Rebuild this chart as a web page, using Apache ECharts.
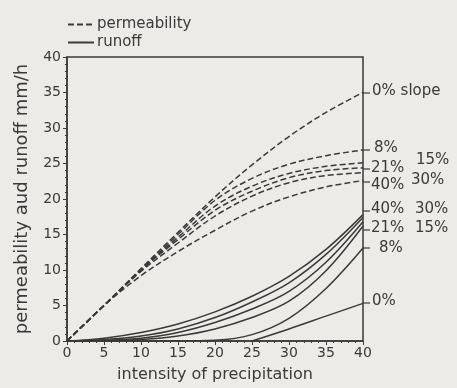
<!DOCTYPE html>
<html>
<head>
<meta charset="utf-8">
<script src="https://cdn.jsdelivr.net/npm/echarts@6/dist/echarts.min.js"></script>
<style>
    html, body { margin: 0; padding: 0; background: #ecebe7; }
    #chart { width: 457px; height: 388px; }
</style>
</head>
<body>
<div id="chart"></div>
<script>
    // intensity of precipitation (x)
    var intensity = [0, 5, 10, 15, 20, 25, 30, 35, 40]

    // permeability (dashed), by slope
    var perm0 = [0, 5, 10.2, 15.3, 20.3, 24.8, 28.8, 32.2, 35]
    var perm8 = [0, 5, 10, 15, 19.8, 22.9, 24.9, 26.1, 26.9]
    var perm15 = [0, 5, 10, 14.6, 19, 21.8, 23.6, 24.6, 25.1]
    var perm21 = [0, 5, 10, 14.3, 18.4, 21.1, 23, 24, 24.4]
    var perm30 = [0, 5, 9.8, 13.8, 17.6, 20.4, 22.3, 23.3, 23.7]
    var perm40 = [0, 5, 9.2, 12.6, 15.6, 18.3, 20.3, 21.7, 22.6]

    // runoff (solid), by slope
    var run0 = [null, null, null, null, null, 0, 1.7, 3.5, 5.3]
    var run8 = [0, 0, 0, 0, 0.1, 0.9, 3.2, 7.4, 13.1]
    var run15 = [0, 0, 0.2, 0.7, 1.7, 3.3, 5.6, 9.9, 16.2]
    var run21 = [0, 0.1, 0.4, 1.2, 2.6, 4.5, 7, 11.1, 16.8]
    var run30 = [0, 0.2, 0.7, 1.7, 3.3, 5.5, 8.2, 12.2, 17.4]
    var run40 = [0, 0.4, 1.2, 2.4, 4.1, 6.3, 9.1, 12.9, 17.8]

    var ink = '#3a3a3a'
    var font = 'DejaVu Sans'

    function pairs (vals) {
        var out = []
        for (var i = 0; i < vals.length; i++) {
            if (vals[i] !== null) out.push([intensity[i], vals[i]])
        }
        return out
    }

    function curve (name, vals, dashed) {
        return {
            name: name,
            type: 'line',
            data: pairs(vals),
            smooth: 0.35,
            symbol: 'none',
            silent: true,
            lineStyle: {
                color: ink,
                width: 1.5,
                type: dashed ? [6, 3] : 'solid'
            },
            itemStyle: { color: ink }
        }
    }

    var series = [
        curve('permeability', perm0, true),
        curve('permeability', perm8, true),
        curve('permeability', perm15, true),
        curve('permeability', perm21, true),
        curve('permeability', perm30, true),
        curve('permeability', perm40, true),
        curve('runoff', run0, false),
        curve('runoff', run8, false),
        curve('runoff', run15, false),
        curve('runoff', run21, false),
        curve('runoff', run30, false),
        curve('runoff', run40, false)
    ]

    function note (x, yc, text) {
        return {
            type: 'text', left: x, top: yc - 9,
            style: { text: text, fill: ink, font: '15px "' + font + '"' }
        }
    }
    function lead (y) {
        return {
            type: 'line',
            shape: { x1: 363, y1: y, x2: 370, y2: y },
            style: { stroke: ink, lineWidth: 1.2 }
        }
    }

    var option = {
        backgroundColor: '#ecebe7',
        animation: false,
        textStyle: { fontFamily: font, color: ink },
        legend: {
            data: ['permeability', 'runoff'],
            orient: 'vertical',
            left: 62,
            top: 12,
            itemWidth: 26,
            itemHeight: 10,
            itemGap: 3,
            itemStyle: { color: 'transparent', borderWidth: 0 },
            textStyle: { fontSize: 15, color: ink, fontFamily: font, padding: [0, 0, 0, -2] }
        },
        grid: {
            left: 67,
            right: 94,
            top: 57,
            bottom: 47,
            show: true,
            borderColor: ink,
            borderWidth: 1.5,
            backgroundColor: 'transparent'
        },
        xAxis: {
            type: 'value',
            min: 0,
            max: 40,
            interval: 5,
            name: 'intensity of precipitation',
            nameLocation: 'middle',
            nameGap: 26,
            nameTextStyle: { fontSize: 16, color: ink, fontFamily: font },
            axisLine: { lineStyle: { color: ink, width: 1.5 } },
            axisTick: { length: 4, lineStyle: { color: ink } },
            minorTick: { show: true, splitNumber: 5, length: 2, lineStyle: { color: ink } },
            splitLine: { show: false },
            axisLabel: { fontSize: 14, color: ink, margin: 5 }
        },
        yAxis: {
            type: 'value',
            min: 0,
            max: 40,
            interval: 5,
            name: 'permeability aud runoff mm/h',
            nameLocation: 'middle',
            nameGap: 36,
            nameTextStyle: { fontSize: 18, color: ink, fontFamily: font },
            axisLine: { show: true, lineStyle: { color: ink, width: 1.5 } },
            axisTick: { show: true, length: 4, lineStyle: { color: ink } },
            minorTick: { show: true, splitNumber: 5, length: 2, lineStyle: { color: ink } },
            splitLine: { show: false },
            axisLabel: { fontSize: 14, color: ink, margin: 6 }
        },
        graphic: [
            lead(93), note(372, 93, '0% slope'),
            lead(150), note(374, 150, '8%'),
            lead(169), note(371, 170, '21%'), note(416, 162, '15%'),
            lead(182), note(371, 187, '40%'), note(411, 182, '30%'),
            lead(211), note(371, 211, '40%'), note(415, 211, '30%'),
            lead(230), note(371, 230, '21%'), note(415, 230, '15%'),
            lead(248), note(379, 250, '8%'),
            lead(303), note(372, 303, '0%')
        ],
        series: series
    }

    var myChart = echarts.init(document.getElementById('chart'))
    myChart.setOption(option)
</script>
</body>
</html>
